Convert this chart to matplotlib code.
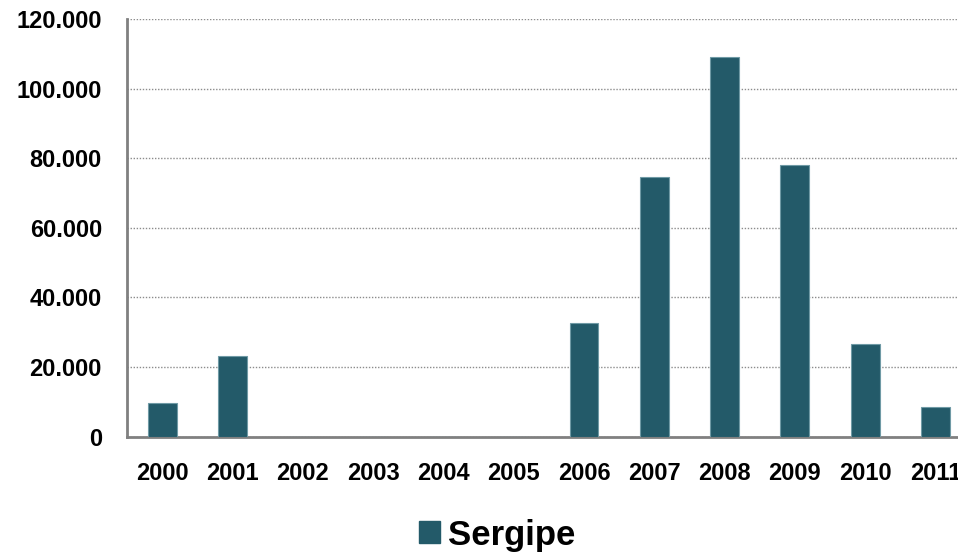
import matplotlib
matplotlib.use("Agg")
import matplotlib.pyplot as plt
from matplotlib.patches import Patch
from matplotlib.ticker import FuncFormatter, MultipleLocator

years = ["2000", "2001", "2002", "2003", "2004", "2005", "2006", "2007", "2008", "2009", "2010", "2011"]
sergipe = [9700, 23300, 0, 0, 0, 0, 32600, 74600, 109100, 78000, 26600, 8500]
series_name = "Sergipe"

plt.rcParams['font.family'] = ['Liberation Sans', 'DejaVu Sans']
plt.rcParams['font.weight'] = 'bold'

fig = plt.figure(figsize=(9.58, 5.54), dpi=100)
ax = fig.add_axes([127/958, 1 - 436.7/554, (970.6 - 127)/958, (436.7 - 19)/554])

bar_color = '#235A69'
x = list(range(len(years)))
ax.bar(x, sergipe, width=0.41, color=bar_color, edgecolor='#6f9aa5', linewidth=0.8, zorder=3)

ax.set_xlim(-0.5, len(years) - 0.5)
ax.set_ylim(0, 120000)
ax.yaxis.set_major_locator(MultipleLocator(20000))
ax.yaxis.set_major_formatter(FuncFormatter(lambda v, p: f"{int(v):,}".replace(",", ".")))
ax.set_xticks(x)
ax.set_xticklabels(years)

ax.grid(axis='y', linestyle=(0, (1, 1.2)), color='#8c8c8c', linewidth=1.0, zorder=0)
for s in ['top', 'right']:
    ax.spines[s].set_visible(False)
for s in ['left', 'bottom']:
    ax.spines[s].set_color('#808080')
    ax.spines[s].set_linewidth(2)

ax.tick_params(axis='both', length=0, labelsize=17)
ax.tick_params(axis='y', pad=18)
ax.tick_params(axis='x', pad=18)
for lbl in ax.get_xticklabels() + ax.get_yticklabels():
    lbl.set_fontweight('bold')

handle = Patch(facecolor=bar_color, edgecolor=bar_color)
leg = fig.legend(handles=[handle], labels=[series_name], loc='center',
                 bbox_to_anchor=(0.519, 0.034), frameon=False,
                 prop={'size': 25, 'weight': 'bold'},
                 handlelength=0.6, handleheight=0.6, handletextpad=0.25)

fig.savefig("out.png", dpi=100)
